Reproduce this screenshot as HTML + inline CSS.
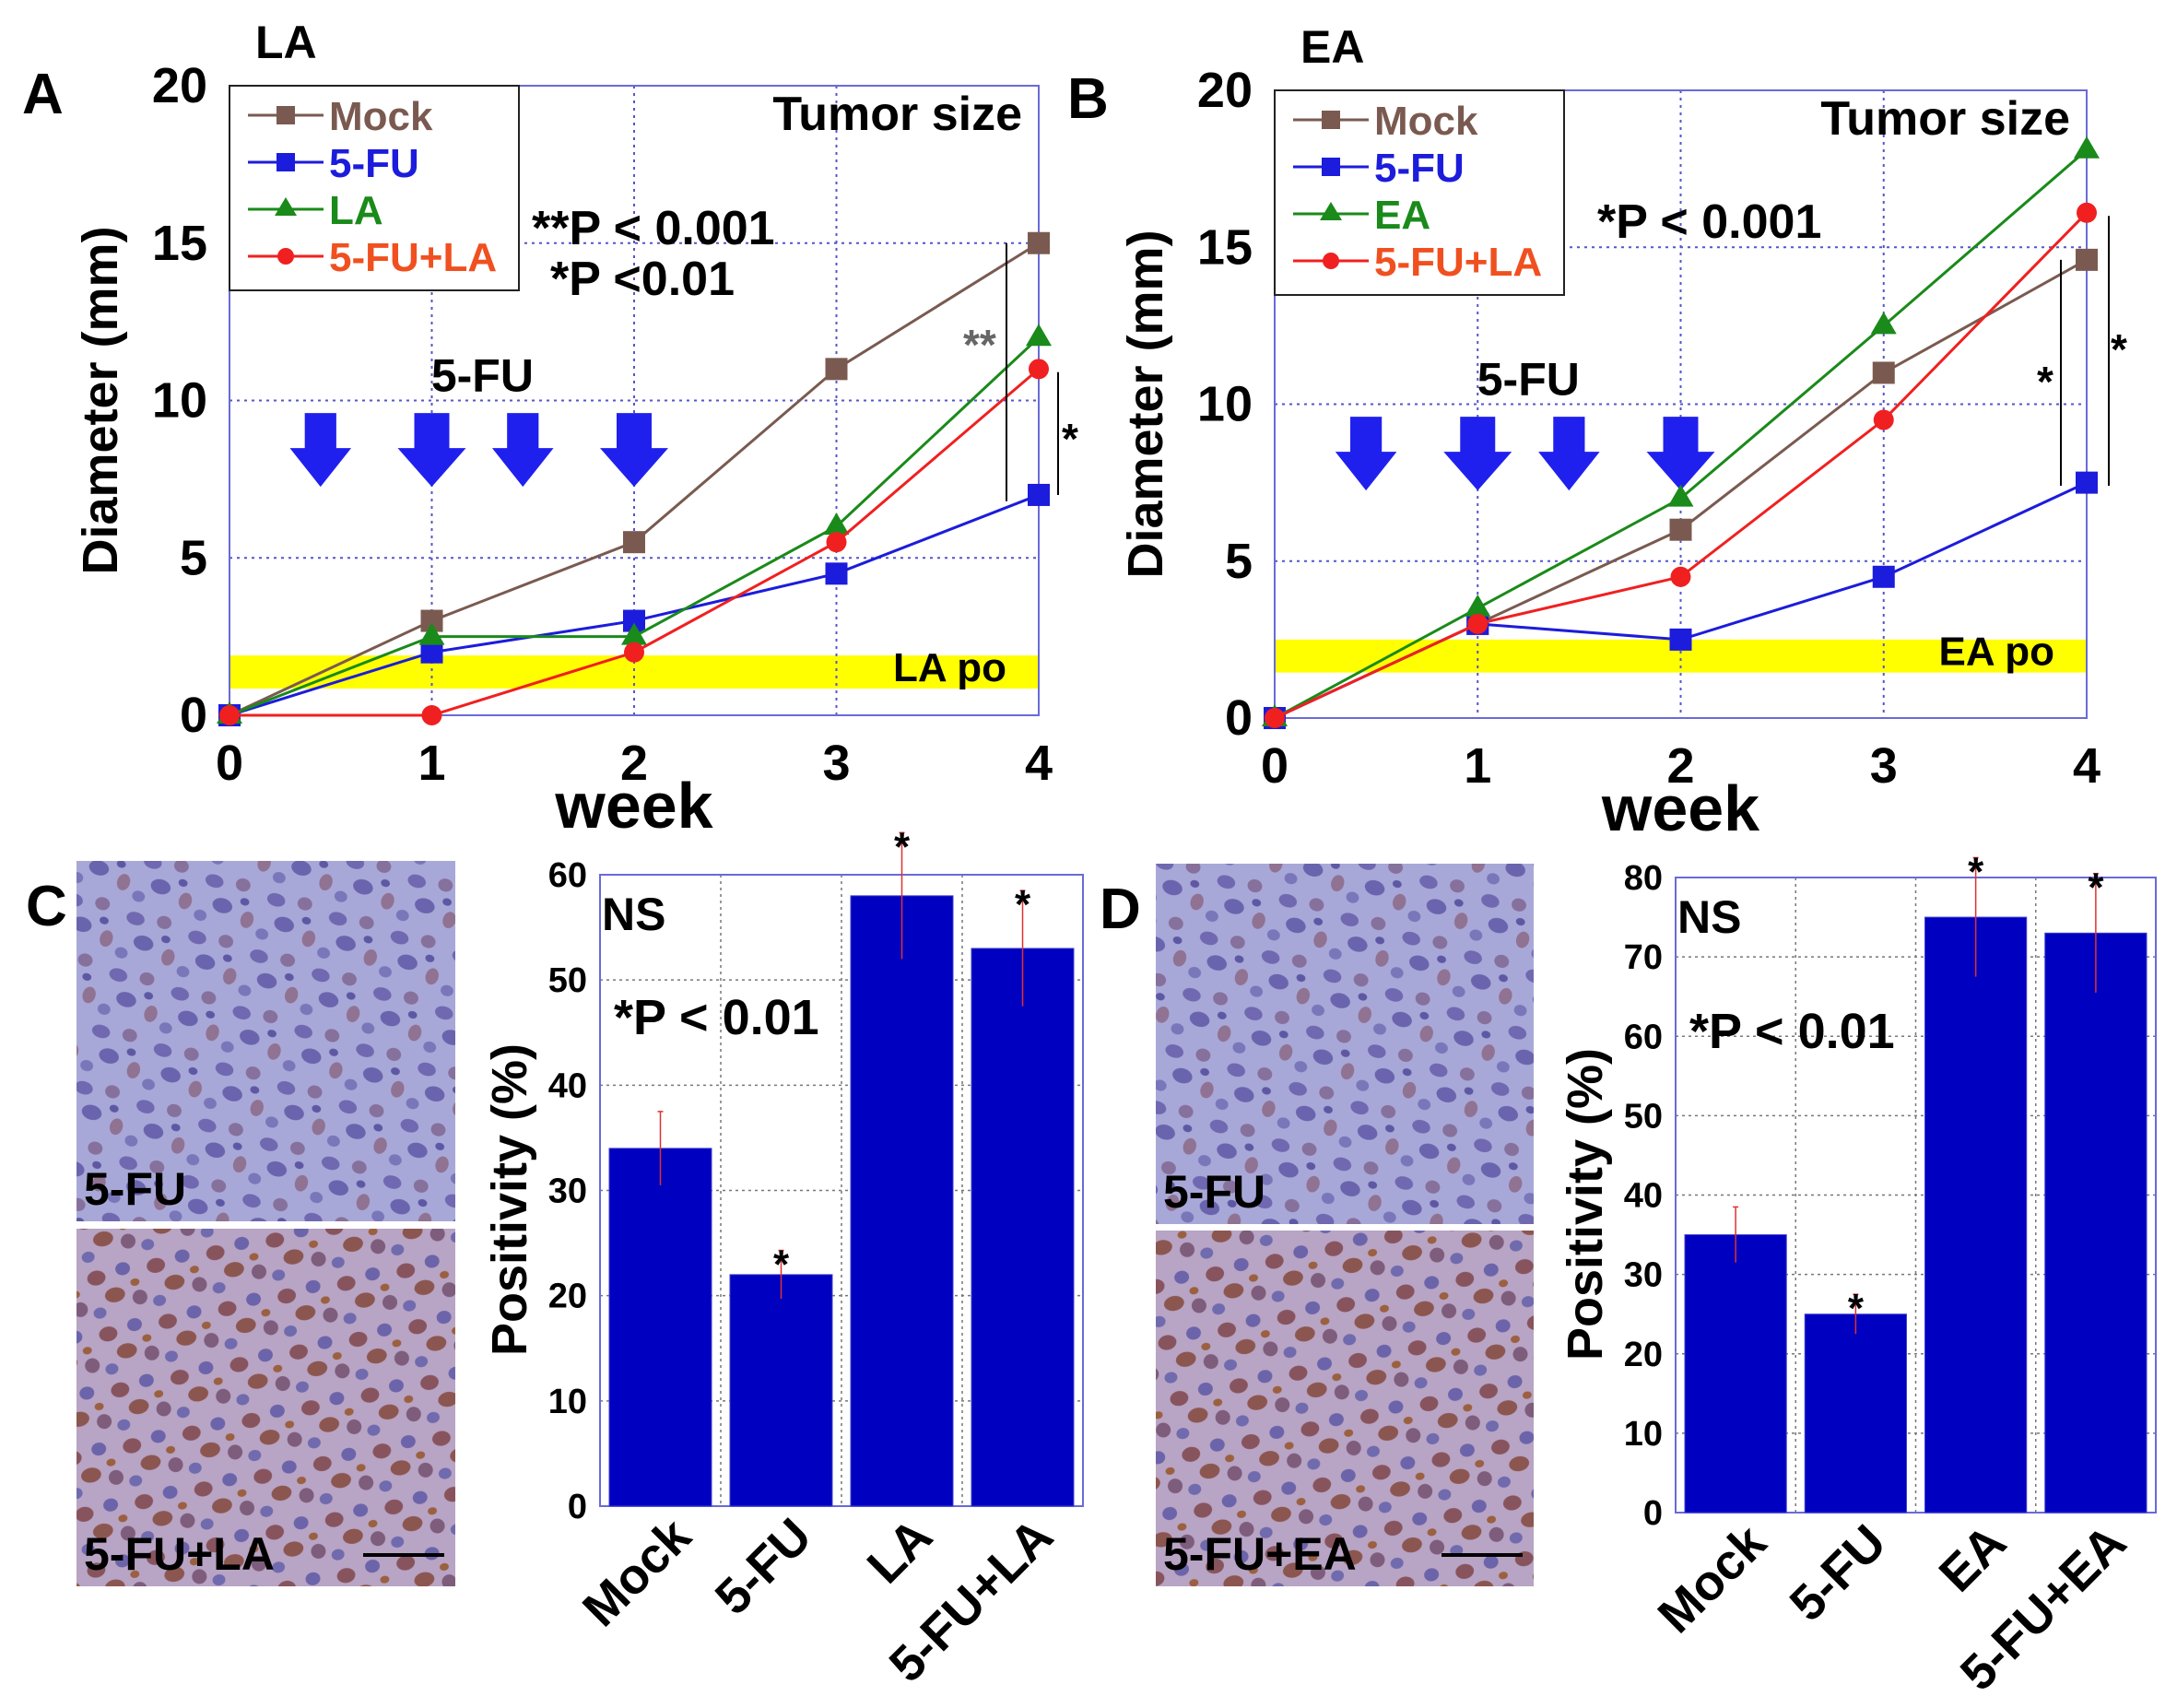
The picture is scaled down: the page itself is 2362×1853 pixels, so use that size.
<!DOCTYPE html>
<html><head><meta charset="utf-8"><style>
html,body{margin:0;padding:0;background:#fff}
svg{display:block;font-family:"Liberation Sans",Arial,sans-serif;font-weight:bold}
</style></head><body>
<svg id="fig" width="2362" height="1853" viewBox="0 0 2362 1853" xmlns="http://www.w3.org/2000/svg">
<defs>
<pattern id="cellsBlue" width="70" height="64" patternUnits="userSpaceOnUse" patternTransform="rotate(17)">
<rect width="70" height="64" fill="#a8a8d8"/>
<ellipse cx="12" cy="14" rx="10" ry="7" fill="#7068b0"/><ellipse cx="43" cy="9" rx="8" ry="7" fill="#86709c"/>
<ellipse cx="28" cy="37" rx="11" ry="8" fill="#6a64ae"/><ellipse cx="58" cy="44" rx="7" ry="9" fill="#907292"/>
<ellipse cx="8" cy="54" rx="7" ry="6" fill="#7a76ba"/><ellipse cx="50" cy="26" rx="5" ry="4" fill="#5e58a4"/>
</pattern>
<pattern id="cellsBrown" width="66" height="62" patternUnits="userSpaceOnUse" patternTransform="rotate(-12)">
<rect width="66" height="62" fill="#b8a4c4"/>
<ellipse cx="12" cy="14" rx="10" ry="8" fill="#87545e"/><ellipse cx="42" cy="10" rx="8" ry="7" fill="#6c64aa"/>
<ellipse cx="28" cy="36" rx="11" ry="8" fill="#8c5650"/><ellipse cx="54" cy="44" rx="8" ry="8" fill="#7e5c7c"/>
<ellipse cx="8" cy="52" rx="7" ry="6" fill="#706aae"/><ellipse cx="52" cy="27" rx="5" ry="4" fill="#9a6040"/>
</pattern>
</defs>
</svg>
<script>
// Panel A data
const weeks = [0,1,2,3,4];
const aMock = [0,3,5.5,11,15];
const aFU = [0,2,3,4.5,7];
const aLA = [0,2.5,2.5,6,12];
const aFULA = [0,0,2,5.5,11];
// Panel B data
const bMock = [0,3,6,11,14.6];
const bFU = [0,3,2.5,4.5,7.5];
const bEA = [0,3.5,7,12.5,18.1];
const bFULA = [0,3,4.5,9.5,16.1];
const yTicks = [0,5,10,15,20];
// Panel C / D data
const cCats = ["Mock","5-FU","LA","5-FU+LA"];
const cVals = [34,22,58,53];
const cErr = [3.5,2.3,6,5.5];
const cTicks = [0,10,20,30,40,50,60];
const dCats = ["Mock","5-FU","EA","5-FU+EA"];
const dVals = [35,25,75,73];
const dErr = [3.5,2.5,7.5,7.5];
const dTicks = [0,10,20,30,40,50,60,70,80];

const NS="http://www.w3.org/2000/svg";
const svg=document.getElementById('fig');
function mk(tag,attrs,parent,text){const e=document.createElementNS(NS,tag);for(const k in attrs)e.setAttribute(k,attrs[k]);if(text!==undefined)e.textContent=text;(parent||svg).appendChild(e);return e;}

function linePanel(o){
  const g=mk('g',{});
  
  
  const X=v=>o.x0+(o.x1-o.x0)*v/4, Y=v=>o.y0+(o.y1-o.y0)*v/20;
  const band=mk('rect',{x:o.x0,y:Y(o.band[1]),width:o.x1-o.x0,height:Y(o.band[0])-Y(o.band[1]),fill:'#ffff00'},g);
  
  
  weeks.slice(1,4).forEach(w=>mk('line',{x1:X(w),x2:X(w),y1:o.y1,y2:o.y0,stroke:'#5555cc','stroke-width':2,'stroke-dasharray':'3 5'},g));
  yTicks.slice(1,4).forEach(t=>mk('line',{x1:o.x0,x2:o.x1,y1:Y(t),y2:Y(t),stroke:'#5555cc','stroke-width':2,'stroke-dasharray':'3 5'},g));
  mk('rect',{x:o.x0,y:o.y1,width:o.x1-o.x0,height:o.y0-o.y1,fill:'none',stroke:'#6a6ad8','stroke-width':2},g);
  yTicks.forEach(t=>{const e=mk('text',{x:o.x0-24,y:Y(t)+18,'font-size':54,'text-anchor':'end'},g,t);});
  weeks.forEach(w=>{const e=mk('text',{x:X(w),y:o.y0+70,'font-size':54,'text-anchor':'middle'},g,w);});
  const xt=mk('text',{x:X(2),y:o.y0+122,'font-size':70,'text-anchor':'middle'},g,'week');
  
  const yt=mk('text',{x:0,y:0,'font-size':54,'text-anchor':'middle',transform:`translate(${o.x0-122},${(o.y0+o.y1)/2}) rotate(-90)`},g,'Diameter (mm)');
  
  [0.45,1,1.45,2].forEach(w=>{const cx=X(w),ty=Y(9.6),s=w===1||w===2?1:0.9;
    const a=mk('path',{d:`M${cx-19*s},${ty} h${38*s} v${38} h${18*s} l${-37*s},${42} l${-37*s},${-42} h${18*s} z`,fill:'#2020ee'},g);
    });
  mk('text',{x:X(1.25),y:Y(10.3),'font-size':50,'text-anchor':'middle'},g,'5-FU');
  o.series.forEach(s=>{
    const sg=mk('g',{},g);
    
    
    mk('polyline',{points:s.vals.map((v,i)=>X(weeks[i])+','+Y(v)).join(' '),fill:'none',stroke:s.color,'stroke-width':3},sg);
    s.vals.forEach((v,i)=>{const x=X(weeks[i]),y=Y(v);let m;
      if(s.shape==='sq')m=mk('rect',{x:x-12,y:y-12,width:24,height:24,fill:s.color},sg);
      else if(s.shape==='tri')m=mk('path',{d:`M${x},${y-15} l14,24 h-28 z`,fill:s.color},sg);
      else m=mk('circle',{cx:x,cy:y,r:11,fill:s.color},sg);
      });
  });
  const lg=mk('g',{},g);
  
  mk('rect',{x:o.x0,y:o.y1,width:o.legW,height:222,fill:'#fff',stroke:'#222','stroke-width':2},lg);
  o.series.forEach((s,i)=>{const y=o.y1+32+i*51,lx=o.x0+20;
    mk('line',{x1:lx,x2:lx+82,y1:y,y2:y,stroke:s.color,'stroke-width':3},lg);
    const cx=lx+41;
    if(s.shape==='sq')mk('rect',{x:cx-10,y:y-10,width:20,height:20,fill:s.color},lg);
    else if(s.shape==='tri')mk('path',{d:`M${cx},${y-13} l12,20 h-24 z`,fill:s.color},lg);
    else mk('circle',{cx:cx,cy:y,r:9,fill:s.color},lg);
    const t=mk('text',{x:lx+88,y:y+16,'font-size':44,fill:s.tcolor||s.color},lg,s.label);
    });
  mk('text',{x:o.x1-18,y:o.y1+48,'font-size':52,'text-anchor':'end'},g,'Tumor size');
  mk('text',{x:o.x1-35,y:Y(o.band[0])-8,'font-size':44,'text-anchor':'end'},g,o.bandLabel);
  mk('text',{x:o.x0+28,y:o.y1-30,'font-size':50},g,o.title);
  mk('text',{x:o.x0-225,y:o.y1+30,'font-size':62},g,o.letter);
  return {g,X,Y};
}

const A=linePanel({name:'panel-a-tumor-size',x0:249,x1:1127,y0:776,y1:93,band:[0.85,1.9],bandLabel:'LA po',title:'LA',letter:'A',legW:314,
 series:[{key:'mock',label:'Mock',vals:aMock,color:'#7a5a50',shape:'sq'},{key:'5fu',label:'5-FU',vals:aFU,color:'#1c1cdc',shape:'sq'},{key:'la',label:'LA',vals:aLA,color:'#1a8a1a',shape:'tri'},{key:'5fu-la',label:'5-FU+LA',vals:aFULA,color:'#f02020',shape:'ci',tcolor:'#f05020'}]});
mk('text',{x:577,y:265,'font-size':52},A.g,'**P < 0.001');
mk('text',{x:597,y:320,'font-size':52},A.g,'*P <0.01');
mk('line',{x1:1092,x2:1092,y1:A.Y(15),y2:A.Y(6.8),stroke:'#000','stroke-width':2},A.g);
mk('line',{x1:1148,x2:1148,y1:A.Y(10.9),y2:A.Y(7),stroke:'#000','stroke-width':2},A.g);
mk('text',{x:1045,y:390,'font-size':46,fill:'#666'},A.g,'**');
mk('text',{x:1152,y:492,'font-size':46},A.g,'*');

const B=linePanel({name:'panel-b-tumor-size',x0:1383,x1:2264,y0:779,y1:98,band:[1.45,2.5],bandLabel:'EA po',title:'EA',letter:'B',legW:314,
 series:[{key:'mock',label:'Mock',vals:bMock,color:'#7a5a50',shape:'sq'},{key:'5fu',label:'5-FU',vals:bFU,color:'#1c1cdc',shape:'sq'},{key:'ea',label:'EA',vals:bEA,color:'#1a8a1a',shape:'tri'},{key:'5fu-la',label:'5-FU+LA',vals:bFULA,color:'#f02020',shape:'ci',tcolor:'#f05020'}]});
mk('text',{x:1733,y:258,'font-size':52},B.g,'*P < 0.001');
mk('line',{x1:2236,x2:2236,y1:B.Y(14.6),y2:B.Y(7.4),stroke:'#000','stroke-width':2},B.g);
mk('line',{x1:2288,x2:2288,y1:B.Y(16),y2:B.Y(7.4),stroke:'#000','stroke-width':2},B.g);
mk('text',{x:2210,y:430,'font-size':46},B.g,'*');
mk('text',{x:2290,y:395,'font-size':46},B.g,'*');

function histo(name,x,y,w,h,fill,label,bar){
  const g=mk('g',{});
  
  mk('rect',{x,y,width:w,height:h,fill},g);
  mk('text',{x:x+8,y:y+h-18,'font-size':50},g,label);
  if(bar)mk('line',{x1:x+w-100,x2:x+w-12,y1:y+h-34,y2:y+h-34,stroke:'#000','stroke-width':4},g);
}
histo('histology-5fu-c',83,934,411,391,'url(#cellsBlue)','5-FU',false);
histo('histology-5fu-la',83,1333,411,388,'url(#cellsBrown)','5-FU+LA',true);
histo('histology-5fu-d',1254,937,410,391,'url(#cellsBlue)','5-FU',false);
histo('histology-5fu-ea',1254,1335,410,386,'url(#cellsBrown)','5-FU+EA',true);

function barPanel(o){
  const g=mk('g',{});
  
  const max=o.ticks[o.ticks.length-1];
  const Y=v=>o.y0+(o.y1-o.y0)*v/max;
  const n=o.cats.length,bw=(o.x1-o.x0)/n,X=i=>o.x0+bw*i;
  for(let i=1;i<n;i++)mk('line',{x1:X(i),x2:X(i),y1:o.y1,y2:o.y0,stroke:'#777','stroke-width':1.5,'stroke-dasharray':'3 4'},g);
  o.ticks.slice(1,-1).forEach(t=>mk('line',{x1:o.x0,x2:o.x1,y1:Y(t),y2:Y(t),stroke:'#777','stroke-width':1.5,'stroke-dasharray':'3 4'},g));
  mk('rect',{x:o.x0,y:o.y1,width:o.x1-o.x0,height:o.y0-o.y1,fill:'none',stroke:'#6a6ad8','stroke-width':2},g);
  o.vals.forEach((v,i)=>{
    const b=mk('rect',{x:X(i)+10,y:Y(v),width:bw-20,height:o.y0-Y(v),fill:'#0000c0',stroke:'#4040d0','stroke-width':1},g);
    
    
    const cx=X(i)+bw/2;
    mk('line',{x1:cx,x2:cx,y1:Y(v+o.err[i]),y2:Y(v-o.err[i]),stroke:'#e03030','stroke-width':1.5},g);
    mk('line',{x1:cx-3,x2:cx+3,y1:Y(v+o.err[i]),y2:Y(v+o.err[i]),stroke:'#e03030','stroke-width':1.5},g);
    if(i>0)mk('text',{x:cx,y:Y(v+o.err[i])+30,'font-size':44,'text-anchor':'middle'},g,'*');
    const t=mk('text',{x:0,y:0,'font-size':54,'text-anchor':'end',transform:`translate(${cx+36},${o.y0+36}) rotate(-45)`},g,o.cats[i]);
    
  });
  o.ticks.forEach(t=>{const e=mk('text',{x:o.x0-14,y:Y(t)+13,'font-size':38,'text-anchor':'end'},g,t);});
  const yt=mk('text',{x:0,y:0,'font-size':54,'text-anchor':'middle',transform:`translate(${o.x0-80},${(o.y0+o.y1)/2+10}) rotate(-90)`},g,'Positivity (%)');
  
  mk('text',{x:o.x0+2,y:o.y1+60,'font-size':50},g,'NS');
  mk('text',{x:o.x0+15,y:o.py,'font-size':54},g,'*P < 0.01');
  mk('text',{x:o.lx,y:o.y1+55,'font-size':62},g,o.letter);
}
barPanel({name:'panel-c-positivity',x0:651,x1:1175,y0:1634,y1:949,cats:cCats,vals:cVals,err:cErr,ticks:cTicks,letter:'C',lx:28,py:1122});
barPanel({name:'panel-d-positivity',x0:1818,x1:2339,y0:1641,y1:952,cats:dCats,vals:dVals,err:dErr,ticks:dTicks,letter:'D',lx:1193,py:1137});
</script>
</body></html>
